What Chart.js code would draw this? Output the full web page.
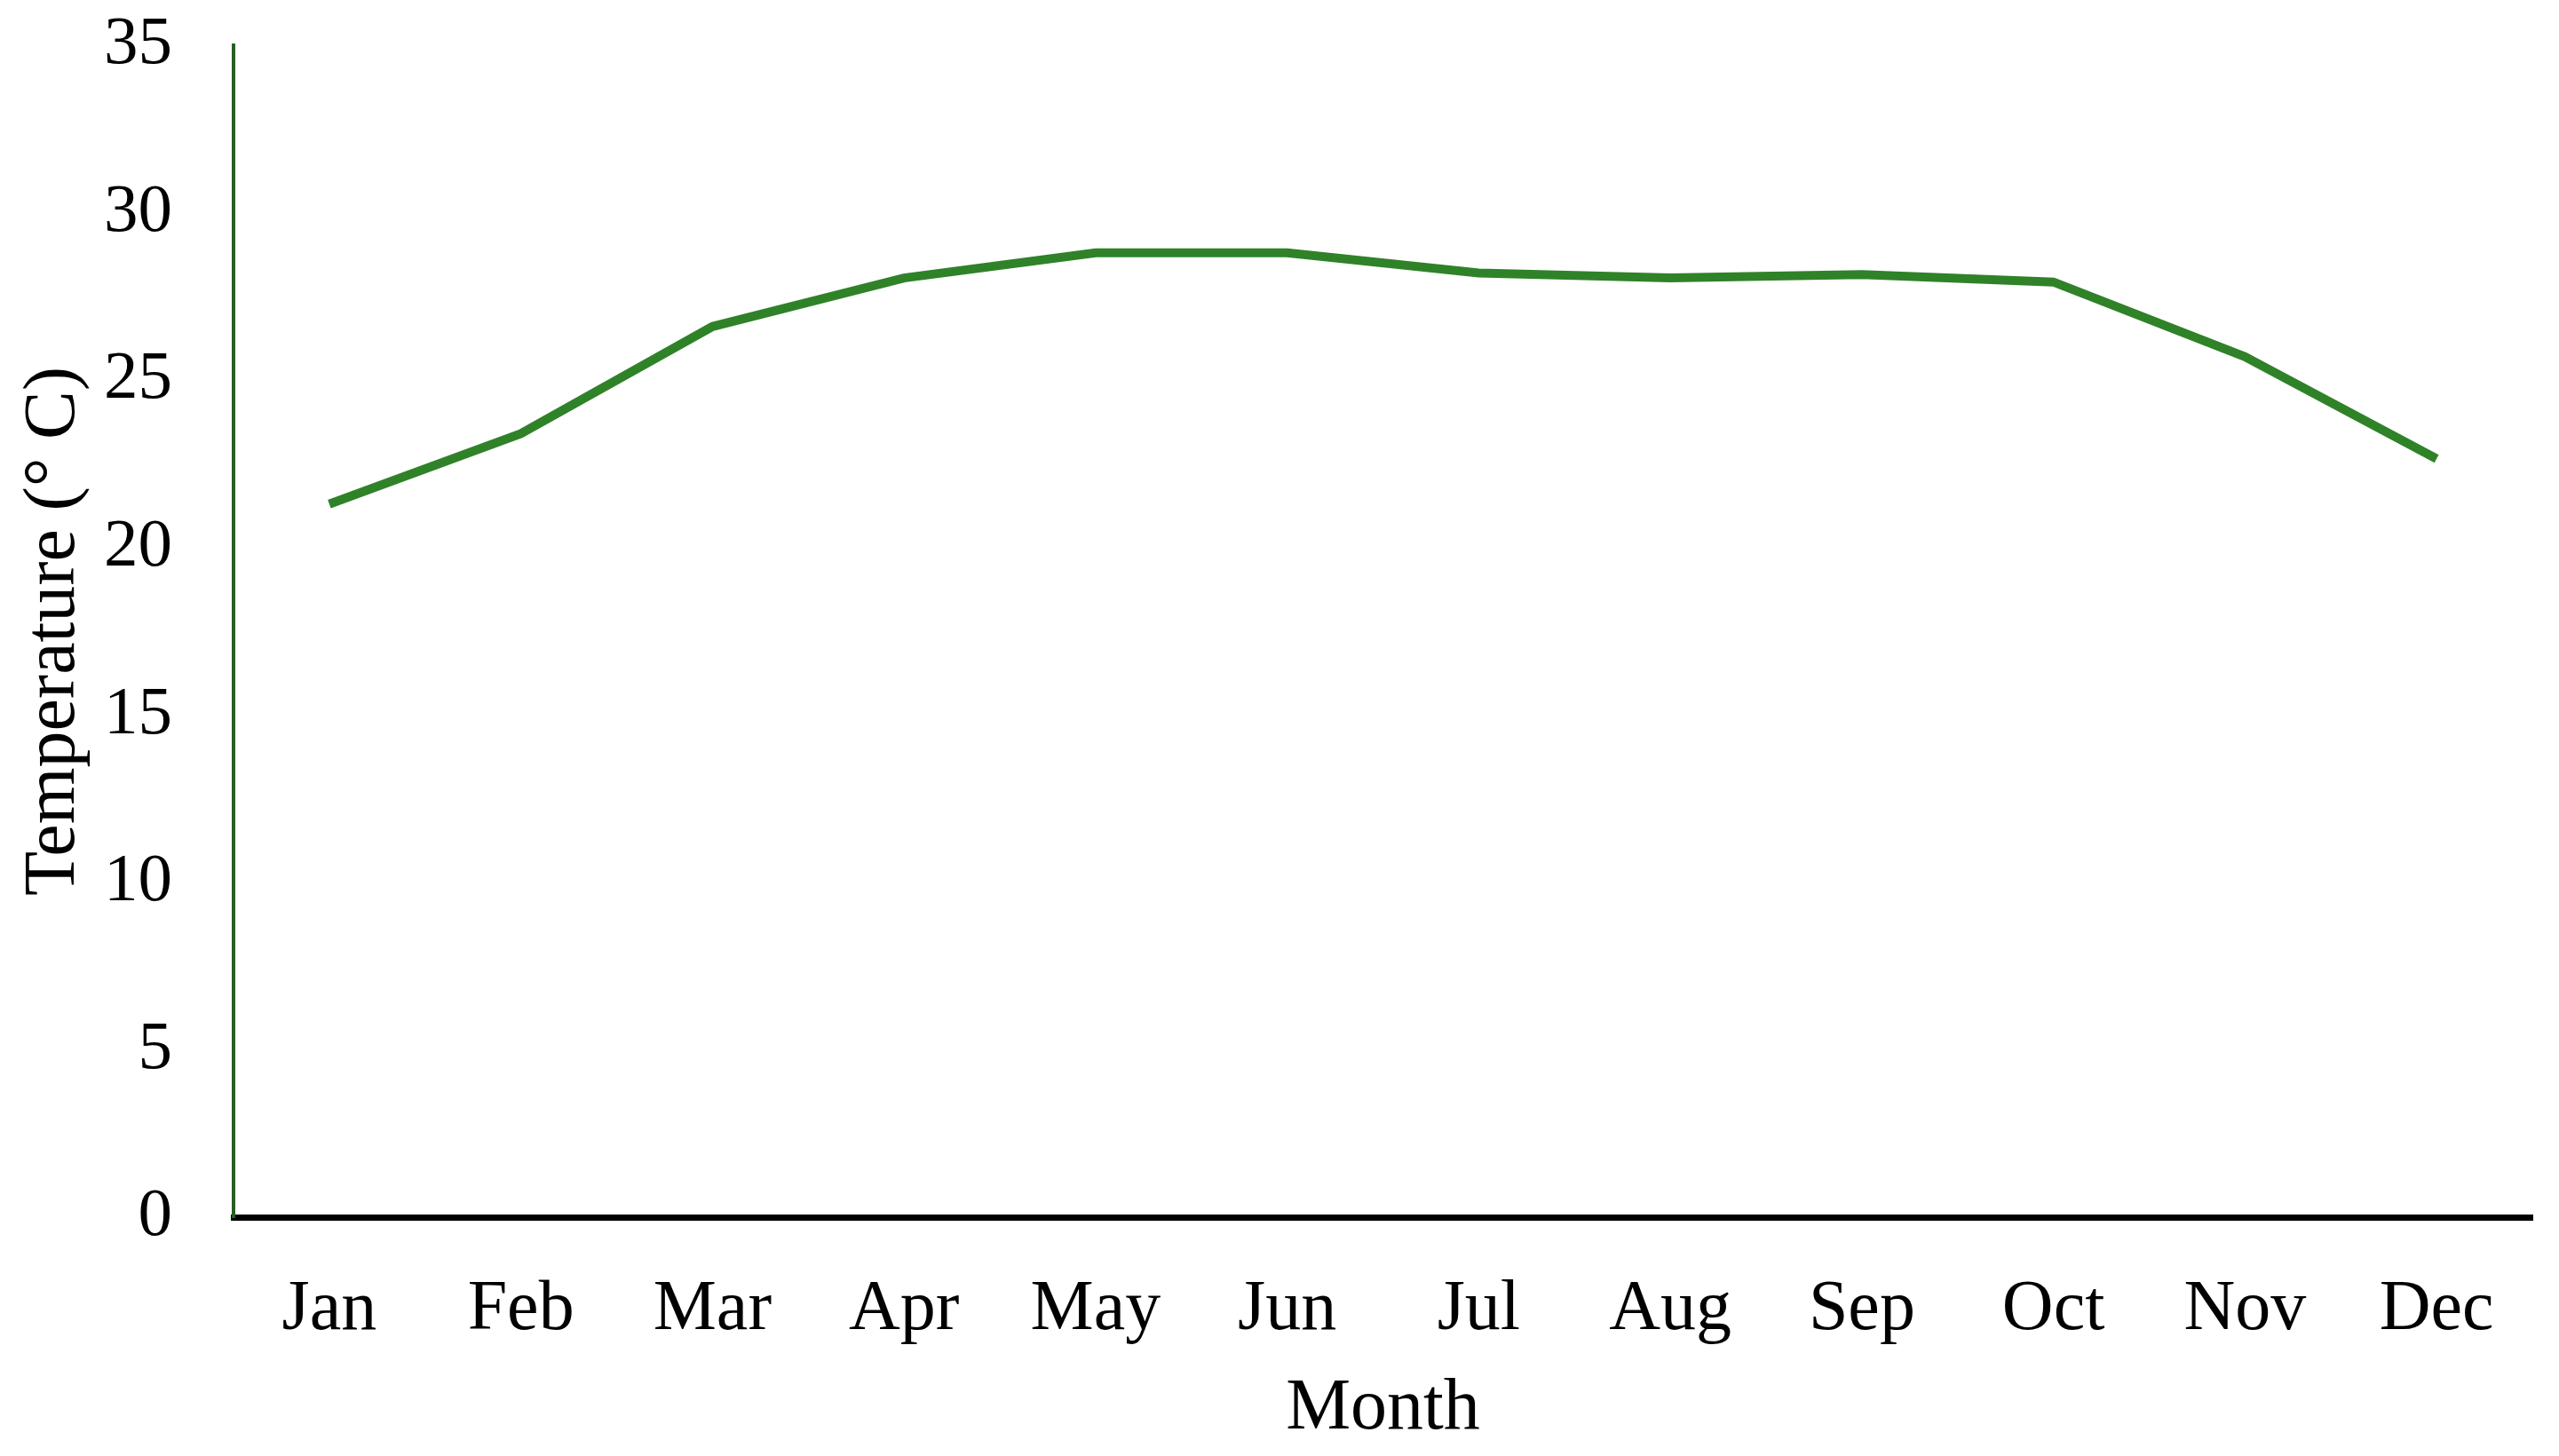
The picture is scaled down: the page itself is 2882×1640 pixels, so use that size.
<!DOCTYPE html>
<html>
<head>
<meta charset="utf-8">
<script src="https://cdn.jsdelivr.net/npm/chart.js@4.4.1/dist/chart.umd.min.js"></script>
<style>
  html, body { margin: 0; padding: 0; background: #ffffff; }
  #wrap { width: 2882px; height: 1640px; position: relative; }
</style>
</head>
<body>
<div id="wrap"><canvas id="c"></canvas></div>
<script>
const months = ["Jan", "Feb", "Mar", "Apr", "May", "Jun", "Jul", "Aug", "Sep", "Oct", "Nov", "Dec"];
const temperature = [21.3, 23.4, 26.6, 28.05, 28.8, 28.8, 28.2, 28.05, 28.15, 27.93, 25.7, 22.65];
const yTicks = [0, 5, 10, 15, 20, 25, 30, 35];
const xTitle = "Month";
const yTitle = "Temperature (° C)";

const serif = "'Liberation Serif', 'Times New Roman', serif";

new Chart(document.getElementById('c'), {
  type: 'line',
  data: {
    labels: months,
    datasets: [{
      label: 'Temperature',
      data: temperature,
      borderColor: '#2f8228',
      backgroundColor: '#2f8228',
      borderWidth: 10,
      pointRadius: 0,
      tension: 0,
      fill: false
    }]
  },
  options: {
    responsive: true,
    maintainAspectRatio: false,
    animation: false,
    layout: { padding: { top: 51, right: 30, left: 0, bottom: 0 } },
    plugins: { legend: { display: false }, tooltip: { enabled: false } },
    scales: {
      x: {
        offset: true,
        grid: { display: false, drawTicks: false },
        border: { display: true, color: '#000000', width: 7 },
        ticks: { color: '#000000', font: { family: serif, size: 80 }, padding: 57 },
        title: { display: true, text: xTitle, color: '#000000', font: { family: serif, size: 82 }, padding: 3 },
        afterFit: (s) => { s.height = 1640 - 1371; s.paddingLeft = 0; s.paddingRight = 0; }
      },
      y: {
        min: 0,
        max: 35,
        afterBuildTicks: (s) => { s.ticks = yTicks.map(v => ({ value: v })); },
        grid: { display: false, drawTicks: false },
        border: { display: true, color: '#285f22', width: 4 },
        ticks: { color: '#000000', font: { family: serif, size: 77 }, padding: 69 },
        title: { display: true, text: yTitle, color: '#000000', font: { family: serif, size: 82 }, padding: 12 },
        afterFit: (s) => { s.width = 263; s.paddingTop = 0; s.paddingBottom = 0; }
      }
    }
  }
});
</script>
</body>
</html>
